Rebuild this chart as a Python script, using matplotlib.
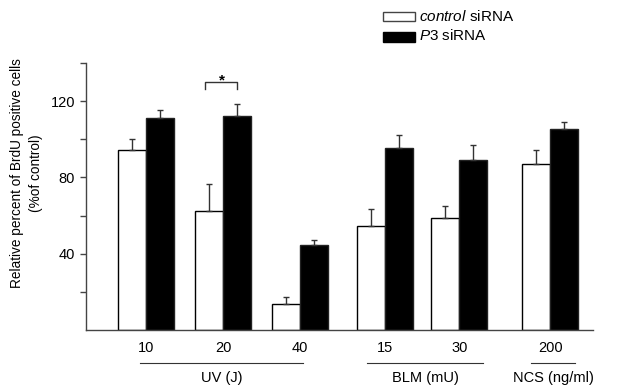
import matplotlib.pyplot as plt
import matplotlib.transforms as mtransforms

plt.rcParams['font.family'] = ['Liberation Sans', 'DejaVu Sans']
plt.rcParams['mathtext.fontset'] = 'custom'
plt.rcParams['mathtext.rm'] = 'Liberation Sans'
plt.rcParams['mathtext.it'] = 'Liberation Sans:italic'

doses = ['10', '20', '40', '15', '30', '200']
control = [94.5, 62.6, 13.8, 54.5, 58.9, 87.0]
control_err = [5.5, 14.0, 3.3, 8.8, 6.1, 7.3]
p3 = [111.2, 112.2, 44.4, 95.3, 89.1, 105.4]
p3_err = [4.4, 6.3, 2.8, 6.8, 8.0, 3.9]
treatments = ['UV (J)', 'BLM (mU)', 'NCS (ng/ml)']

# layout
pos = [0, 1, 2, 3.1, 4.07, 5.25]
w = 0.364
group_spans = [(-0.08, 2.035), (2.87, 4.38), (5.0, 5.57)]

fig = plt.figure(figsize=(6.19, 3.9), dpi=100)
ax = fig.add_axes([0.139, 0.1538, 0.819, 0.6845])

xc = [p - w / 2 for p in pos]
xp = [p + w / 2 for p in pos]
ax.bar(xc, control, w, color='white', edgecolor='black', linewidth=1.0, zorder=2)
ax.bar(xp, p3, w, color='black', edgecolor='#222222', linewidth=1.0, zorder=2)
ax.errorbar(xc, control, yerr=[[0] * len(control), control_err], fmt='none',
            ecolor='#333333', elinewidth=1.0, capsize=2.2, capthick=1.0, zorder=3)
ax.errorbar(xp, p3, yerr=[[0] * len(p3), p3_err], fmt='none',
            ecolor='#333333', elinewidth=1.0, capsize=2.2, capthick=1.0, zorder=3)

# significance bracket for UV 20
ax.plot([xc[1] - 0.05, xc[1] - 0.05, xp[1], xp[1]], [126.4, 130.2, 130.2, 126.4],
        color='#333333', lw=1.0, clip_on=False)
ax.text((xc[1] + xp[1]) / 2 - 0.02, 131.0, '*', ha='center', va='center', fontsize=11,
        fontweight='bold')

ax.set_xlim(-0.779, 5.805)
ax.set_ylim(0, 140)
ax.set_yticks([20, 40, 60, 80, 100, 120, 140])
ax.set_yticklabels(['', '40', '', '80', '', '120', ''], fontsize=10.5)
ax.set_xticks([])
ax.tick_params(axis='y', direction='out', length=4, width=1, color='#444444', pad=4)
for s in ['top', 'right']:
    ax.spines[s].set_visible(False)
for s in ['left', 'bottom']:
    ax.spines[s].set_color('#444444')
    ax.spines[s].set_linewidth(1.0)

ax.set_ylabel('Relative percent of BrdU positive cells\n(%of control)', fontsize=9.8,
              linespacing=1.5)
ax.yaxis.set_label_coords(-0.084, 0.588)

trans = mtransforms.blended_transform_factory(ax.transData, ax.transAxes)
for p, d in zip(pos, doses):
    ax.text(p, -0.067, d, transform=trans, ha='center', va='center', fontsize=10.5)
for (a, b), t in zip(group_spans, treatments):
    ax.plot([a, b], [-0.1225, -0.1225], transform=trans, color='#333333', lw=0.8,
            clip_on=False)
    ax.text((a + b) / 2, -0.178, t, transform=trans, ha='center', va='center',
            fontsize=10.5)

# legend
fig.patches.append(plt.Rectangle((383 / 619, 1 - 20.7 / 390), 32 / 619, 8.4 / 390,
                                 transform=fig.transFigure, facecolor='white',
                                 edgecolor='#444444', lw=1.0))
fig.patches.append(plt.Rectangle((383 / 619, 1 - 41.7 / 390), 32 / 619, 10 / 390,
                                 transform=fig.transFigure, facecolor='black',
                                 edgecolor='black', lw=1.0))
fig.text(419 / 619, 1 - 16.5 / 390, r'$\it{control}$ siRNA', ha='left', va='center',
         fontsize=11)
fig.text(419 / 619, 1 - 36 / 390, r'$\it{P3}$ siRNA', ha='left', va='center', fontsize=11)

fig.savefig('out.png', dpi=100)
